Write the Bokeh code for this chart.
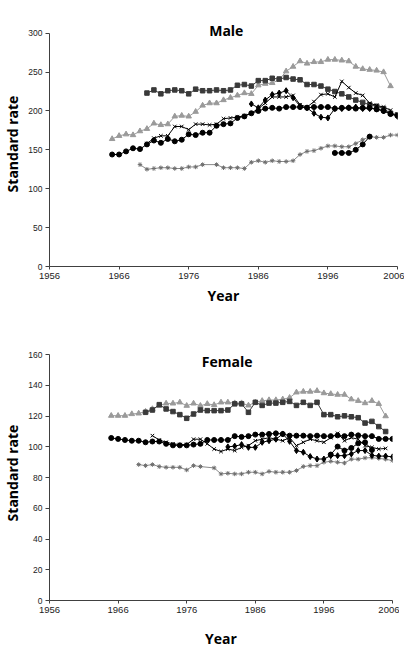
from bokeh.plotting import figure
from bokeh.models import Range1d, FixedTicker, Label, ColumnDataSource
from bokeh.layouts import column
from bokeh.embed import file_html
from bokeh.resources import INLINE

# ---------------- data: Male ----------------
m_tri_years = list(range(1965, 2006))
m_tri = [164, 168, 170, 169, 174, 177, 184, 182, 183, 193, 194, 193, 199, 207, 210, 210, 214, 217, 220, 223,
         222, 233, 235, 236, 240, 251, 257, 264, 261, 263, 263, 266, 266, 265, 264, 257, 254, 253, 252, 250, 232]

m_sq_years = list(range(1970, 2007))
m_sq = [223, 227, 222, 226, 227, 226, 222, 228, 226, 226, 227, 226, 227, 233, 234, 232, 239, 239, 242, 241,
        243, 241, 240, 234, 234, 232, 228, 225, 222, 218, 214, 211, 208, 206, 203, 197, 195]

m_circ_years = list(range(1965, 2007))
m_circ = [144, 144, 148, 152, 151, 157, 162, 159, 164, 161, 163, 170, 169, 172, 172, 181, 183, 184, 191, 193,
          197, 200, 203, 204, 203, 205, 205, 205, 204, 205, 205, 205, 203, 204, 204, 203, 204, 204, 202, 200,
          196, 194]

m_x_years = list(range(1970, 2006))
m_x = [158, 165, 168, 168, 180, 180, 176, 183, 183, 182, 183, 190, 191, 192, 194, 197, 203, 210, 218, 218,
       218, 220, 208, 205, 212, 221, 222, 218, 238, 230, 223, 220, 210, 207, 205, 201]

m_dia_years = list(range(1985, 2007))
m_dia = [209, 204, 214, 221, 223, 226, 217, 206, 204, 197, 192, 191, 203, 203, 204, 205, 203, 203, 203, 200,
         197, 193]

m_ast_years = list(range(1969, 1979)) + list(range(1980, 2007))
m_ast = [131, 125, 126, 127, 127, 126, 126, 128, 128, 131, 131, 127, 127, 127, 126, 134, 136, 134, 136, 135,
         135, 136, 144, 148, 149, 152, 155, 155, 154, 154, 158, 163, 167, 166, 166, 169, 169]

m_short_years = list(range(1997, 2003))
m_short = [146, 146, 146, 150, 157, 167]

# ---------------- data: Female ----------------
f_tri_years = list(range(1965, 2006))
f_tri = [120.3, 120.3, 120.3, 121.4, 121.8, 123, 124.7, 126.8, 128.3, 128.3, 129, 126.8, 128.3, 126.8, 128,
         127.3, 129, 129, 128.5, 128.5, 127, 129, 130, 130.5, 130.5, 131, 132, 135.5, 136, 136, 136.5, 135,
         134.5, 134, 134, 131, 130, 128.5, 130, 128, 120]

f_sq_years = list(range(1970, 2006))
f_sq = [122.5, 124, 127.5, 124.7, 123, 121, 118.6, 121.4, 124, 123.6, 123.6, 123.6, 124, 128, 128, 122.5,
        129, 127, 128.5, 128.5, 129, 129.6, 127, 129, 127, 129, 121, 121, 119.6, 120.2, 119.6, 119, 115.5,
        116.6, 113.2, 110]

f_circ_years = list(range(1965, 2007))
f_circ = [105.8, 105.2, 104.5, 104, 104, 103, 103.5, 103.5, 102, 101, 101, 101, 101.5, 102, 104.5, 104.5,
          104.5, 104.5, 107, 106.5, 107, 108, 108, 108.4, 108.8, 108.4, 107.3, 107.3, 107.3, 107, 107.3, 107,
          107, 107.5, 107, 108, 107.5, 107, 107, 105.2, 105.2, 105.2]

f_x_years = list(range(1971, 2006))
f_x = [107.3, 104.5, 103, 102, 101.5, 101.5, 105, 105, 102, 98.6, 97, 98.6, 97.6, 99.7, 100.8, 104, 105, 106,
       105, 104, 106, 100.8, 103, 105, 104, 103, 106, 108.8, 104, 106, 105, 100.8, 99.7, 98.6, 99]

f_dia_years = list(range(1982, 2007))
f_dia = [100, 100.5, 101.5, 99.7, 99.7, 103, 104, 105, 108.4, 103.6, 97.6, 96.5, 93.7, 92.1, 92.1, 94.3, 94.3,
         94.3, 95.4, 97.6, 97.6, 94.5, 94, 94, 93.5]

f_ast_years = list(range(1969, 1979)) + list(range(1980, 2007))
f_ast = [88.5, 87.8, 88.5, 87.2, 86.7, 86.7, 86.7, 85, 87.8, 87.2, 86.3, 82.4, 82.8, 82.4, 82.4, 83.5, 83.5,
         82.4, 84, 83.5, 83.5, 83.5, 84.6, 87.2, 87.8, 87.8, 90, 90.6, 90, 89.5, 92, 92, 92.8, 93, 92.5, 92, 91]

f_short_years = list(range(1997, 2004))
f_short = [95, 100.2, 97.6, 99.3, 102.3, 103, 98]

x_ticks = [1956, 1966, 1976, 1986, 1996, 2006]
male_y_ticks = [0, 50, 100, 150, 200, 250, 300]
female_y_ticks = [0, 20, 40, 60, 80, 100, 120, 140, 160]

TRI_C = "#9a9a9a"
SQ_C = "#3a3a3a"
BLK = "#000000"
AST_LINE = "#8a8a8a"
AST_MK = "#6e6e6e"

BOLD_FONT = "Open Sans"


def style_axes(p, yticks, ytop, xlabel_standoff):
    p.xaxis.ticker = FixedTicker(ticks=x_ticks)
    p.yaxis.ticker = FixedTicker(ticks=yticks)
    p.yaxis.bounds = (0, ytop)
    for ax in (p.xaxis, p.yaxis):
        ax.axis_line_color = "#404040"
        ax.axis_line_width = 1
        ax.major_tick_line_color = "#404040"
        ax.major_tick_in = 0
        ax.major_tick_out = 4
        ax.minor_tick_line_color = None
        ax.major_label_text_font = "Liberation Sans"
        ax.major_label_text_color = "#222222"
        ax.axis_label_text_font = BOLD_FONT
        ax.axis_label_text_font_style = "bold"
        ax.axis_label_text_font_size = "14px"
        ax.axis_label_text_color = "#000000"
    p.xaxis.major_label_text_font_size = "9.5px"
    p.yaxis.major_label_text_font_size = "8.5px"
    p.xaxis.major_label_standoff = 3
    p.yaxis.major_label_standoff = 3
    p.xaxis.major_tick_out = 3
    p.xaxis.axis_label = "Year"
    p.yaxis.axis_label = "Standard rate"
    p.xaxis.axis_label_standoff = xlabel_standoff
    p.yaxis.axis_label_standoff = 3
    p.xgrid.grid_line_color = None
    p.ygrid.grid_line_color = None
    p.outline_line_color = None


def series(p, xs, ys, marker, line_color, mk_color, size, line_width=1.0):
    src = ColumnDataSource(data=dict(x=xs, y=ys))
    p.line("x", "y", source=src, line_color=line_color, line_width=line_width)
    if marker in ("x", "asterisk"):
        p.scatter("x", "y", source=src, marker=marker, size=size, line_color=mk_color,
                  line_width=1.0)
    else:
        p.scatter("x", "y", source=src, marker=marker, size=size, fill_color=mk_color,
                  line_color=mk_color)


def make_fig(title, yticks, ytop, ymax, fw, fh, top, bottom, xstandoff, data, tx, ty):
    p = figure(frame_width=fw, frame_height=fh, output_backend="svg", toolbar_location=None,
               x_range=Range1d(1956, 2006), y_range=Range1d(0, ymax),
               min_border_left=47, min_border_right=7, min_border_top=top, min_border_bottom=bottom,
               background_fill_color="white", border_fill_color="white")
    style_axes(p, yticks, ytop, xstandoff)
    (tri_y, tri), (sq_y, sq), (ci_y, ci), (x_y, xv), (d_y, dv), (a_y, av), (s_y, sv) = data
    series(p, a_y, av, "asterisk", AST_LINE, AST_MK, 4.5)
    series(p, tri_y, tri, "triangle", TRI_C, TRI_C, 5.5)
    series(p, sq_y, sq, "square", SQ_C, SQ_C, 4.5)
    series(p, ci_y, ci, "circle", BLK, BLK, 5)
    series(p, x_y, xv, "x", BLK, BLK, 5)
    series(p, d_y, dv, "diamond", BLK, BLK, 6)
    series(p, s_y, sv, "circle", BLK, BLK, 5)
    p.add_layout(Label(x=tx, y=ty, text=title, text_align="center", text_baseline="middle",
                       text_font=BOLD_FONT, text_font_style="bold", text_font_size="14px",
                       text_color="#000000"))
    return p


male = make_fig("Male", male_y_ticks, 300, 315, 348, 245, 21, 50, 4,
                [(m_tri_years, m_tri), (m_sq_years, m_sq), (m_circ_years, m_circ), (m_x_years, m_x),
                 (m_dia_years, m_dia), (m_ast_years, m_ast), (m_short_years, m_short)],
                1981.4, 303)
female = make_fig("Female", female_y_ticks, 160, 166, 343, 255, 29, 50, 13,
                  [(f_tri_years, f_tri), (f_sq_years, f_sq), (f_circ_years, f_circ), (f_x_years, f_x),
                   (f_dia_years, f_dia), (f_ast_years, f_ast), (f_short_years, f_short)],
                  1981.9, 155.5)

layout = column(male, female, spacing=0)
open("out.html", "w").write(file_html(layout, INLINE))
